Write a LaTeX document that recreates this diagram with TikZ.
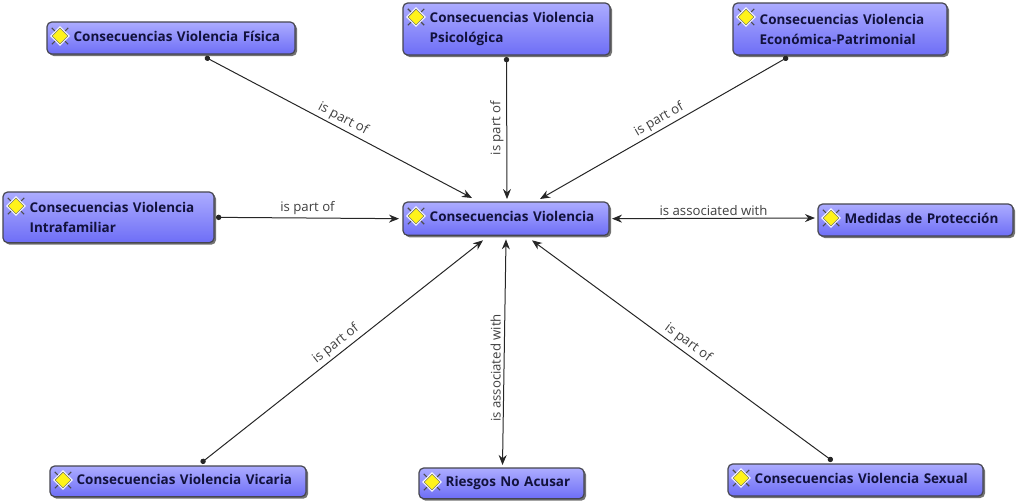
\documentclass[tikz,border=0pt]{standalone}
\usepackage{fontspec}
\setmainfont{Open Sans}
\usetikzlibrary{arrows.meta,shapes.geometric,shapes.misc,shadows}
\definecolor{boxtop}{HTML}{ACACFF}
\definecolor{boxbottom}{HTML}{6E6EF6}
\definecolor{boxline}{HTML}{45454F}
\definecolor{boxtext}{HTML}{12123C}
\newcommand{\boxfont}{\fontsize{10.1}{15}\selectfont\bfseries\hyphenpenalty=10000}
\newcommand{\linkfont}{\fontsize{9.9}{10}\selectfont}
\newcommand{\iconskip}{\hspace*{20pt}}

\begin{document}
\begin{tikzpicture}[x=0.75pt, y=-0.75pt,
        conceptbox/.style = {anchor=north west, draw=boxline, line width=0.9pt, rounded corners=3.5pt,
            top color=boxtop, bottom color=boxbottom, text=boxtext, font=\boxfont, align=left,
            outer sep=0pt, inner sep=0pt, text width=#1*0.75pt,
            drop shadow={shadow xshift=1.5pt, shadow yshift=-1.5pt, fill=black, opacity=0.55}},
        oneline/.style = {text depth=3pt},
        conceptcross/.style = {cross out, draw=black!70, line width=0.8pt, inner sep=0pt, minimum size=11.5pt},
        conceptmark/.style = {diamond, fill=white, inner sep=0pt, minimum size=15pt},
        conceptcore/.style = {diamond, draw=black!55, line width=0.4pt, fill=yellow!90!white, inner sep=0pt, minimum size=12pt},
        link/.style = {draw=black!85, line width=0.75pt, {Circle[length=4pt]}-{Stealth[length=7.5pt,width=6pt]}},
        twoway/.style = {draw=black!85, line width=0.75pt, {Stealth[length=7.5pt,width=6pt]}-{Stealth[length=7.5pt,width=6pt]}},
        linklabel/.style = {font=\linkfont, text=black!75, inner sep=2pt}]
    \useasboundingbox (0,0) rectangle (1016,501);

    %% boxes
    \node[conceptbox=248, oneline, minimum height=24pt] (fisica) at (47,22) {\iconskip Consecuencias Violencia Física};
    \node[conceptbox=207, minimum height=39pt] (psicologica) at (403,3) {\iconskip Consecuencias Violencia\\\iconskip Psicológica};
    \node[conceptbox=214, minimum height=39pt] (economica) at (733,3) {\iconskip Consecuencias Violencia\\\iconskip Económica-Patrimonial};
    \node[conceptbox=211, minimum height=38pt] (intrafamiliar) at (3,192) {\iconskip Consecuencias Violencia\\\iconskip Intrafamiliar};
    \node[conceptbox=206, oneline, minimum height=25pt] (central) at (403,202) {\iconskip Consecuencias Violencia};
    \node[conceptbox=195, oneline, minimum height=24pt] (medidas) at (818,204) {\iconskip Medidas de Protección};
    \node[conceptbox=256, oneline, minimum height=23pt] (vicaria) at (50,466) {\iconskip Consecuencias Violencia Vicaria};
    \node[conceptbox=165, oneline, minimum height=23pt] (riesgos) at (419,468) {\iconskip Riesgos No Acusar};
    \node[conceptbox=255, oneline, minimum height=24pt] (sexual) at (728,464) {\iconskip Consecuencias Violencia Sexual};

    %% icons
    \foreach \name in {fisica,psicologica,economica,intrafamiliar,central,medidas,vicaria,riesgos,sexual}{
        \node[conceptcross] (\name cross) at ([shift={(13,14)}]\name.north west) {};
        \node[conceptmark] (\name mark) at (\name cross) {};
        \node[conceptcore] (\name core) at (\name cross) {};
    }

    %% connectors
    \draw[link] ([shift={(34,3)}]fisica.south) -- node[linklabel, sloped, above, pos=0.5] {is part of} ([shift={(-34,-4)}]central.north);
    \draw[link] ([shift={(0,2)}]psicologica.south) -- node[linklabel, rotate=90, above, pos=0.5] {is part of} ([shift={(1,-3)}]central.north);
    \draw[link] ([shift={(-52,2)}]economica.south) -- node[linklabel, sloped, above, pos=0.5] {is part of} ([shift={(34,-3)}]central.north);
    \draw[link] ([shift={(2,0)}]intrafamiliar.east) -- node[linklabel, above, pos=0.5] {is part of} ([shift={(-4,0)}]central.west);
    \draw[twoway] ([shift={(3,0)}]central.east) -- node[linklabel, above, pos=0.5] {is associated with} ([shift={(-3,-2)}]medidas.west);
    \draw[link] ([shift={(23,-3)}]vicaria.north) -- node[linklabel, sloped, above, pos=0.5] {is part of} ([shift={(-23,5)}]central.south);
    \draw[twoway] ([shift={(1,-3)}]riesgos.north) -- node[linklabel, rotate=90, above, pos=0.43] {is associated with} ([shift={(0,4)}]central.south);
    \draw[link] ([shift={(-23,-3)}]sexual.north) -- node[linklabel, sloped, above, pos=0.5] {is part of} ([shift={(26,5)}]central.south);
\end{tikzpicture}
\end{document}
